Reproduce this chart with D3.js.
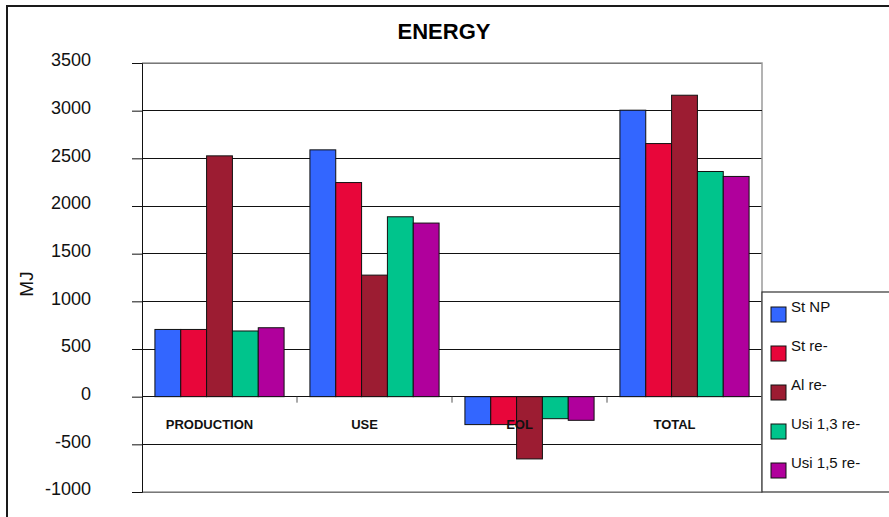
<!DOCTYPE html>
<html>
<head>
<meta charset="utf-8">
<script src="https://cdn.jsdelivr.net/npm/d3@7"></script>
<style>
  html, body { margin: 0; padding: 0; background: #fff; }
  svg { display: block; font-family: "Liberation Sans", Arial, sans-serif; }
</style>
</head>
<body>
<svg id="chart" width="889" height="517"></svg>
<script>
// Energy per life-cycle phase (MJ), one series per material option
const categories = ["PRODUCTION", "USE", "EOL", "TOTAL"];
const seriesNames = ["St NP", "St re-", "Al re-", "Usi 1,3 re-", "Usi 1,5 re-"];
const stNP   = [705, 2589, -293, 3005];
const stRe   = [705, 2246, -293, 2655];
const alRe   = [2526, 1275, -653, 3162];
const usi13  = [689, 1887, -231, 2362];
const usi15  = [723, 1821, -248, 2310];
const seriesValues = [stNP, stRe, alRe, usi13, usi15];
const seriesColors = ["#3366FF", "#E8063A", "#9C1C32", "#00C48C", "#B0009C"];
const yTicks = [-1000, -500, 0, 500, 1000, 1500, 2000, 2500, 3000, 3500];

const svg = d3.select("#chart");
const W = 889, H = 517;
const plot = { left: 142, right: 762, top: 63, bottom: 492 };

// outer frame (runs off the right and bottom edges)
svg.append("path")
  .attr("d", `M7,${H + 2}V6H${W + 2}`)
  .attr("fill", "none").attr("stroke", "#1a1a1a").attr("stroke-width", 2);

// title
svg.append("text")
  .attr("x", 444).attr("y", 39)
  .attr("text-anchor", "middle")
  .attr("font-size", 22).attr("font-weight", "bold")
  .text("ENERGY");

const y = d3.scaleLinear().domain([-1000, 3500]).range([plot.bottom, plot.top]);

const x0 = d3.scaleBand().domain(categories)
  .range([plot.left, plot.right])
  .paddingInner(1 / 6).paddingOuter(1 / 12);
const x1 = d3.scaleBand().domain(seriesNames).range([0, x0.bandwidth()]);

// gridlines
svg.append("g").selectAll("line").data(yTicks).join("line")
  .attr("x1", plot.left).attr("x2", plot.right)
  .attr("y1", d => y(d)).attr("y2", d => y(d))
  .attr("stroke", "#111").attr("stroke-width", 1)
  .attr("shape-rendering", "crispEdges");

// plot frame: top, right and bottom in grey
svg.append("path")
  .attr("d", `M${plot.left},${plot.top}H${plot.right}V${plot.bottom}H${plot.left}`)
  .attr("fill", "none").attr("stroke", "#9a9a9a").attr("stroke-width", 1.5);
svg.append("line")
  .attr("x1", plot.left).attr("x2", plot.right)
  .attr("y1", y(3000)).attr("y2", y(3000))
  .attr("stroke", "#111").attr("shape-rendering", "crispEdges");

// y axis (plain hyphen for negatives)
const yAxis = d3.axisLeft(y).tickValues(yTicks).tickSize(10).tickPadding(41)
  .tickFormat(d => String(d));
const gy = svg.append("g").attr("transform", `translate(${plot.left},0)`).call(yAxis);
gy.select(".domain").attr("stroke", "#111");
gy.selectAll(".tick line").attr("stroke", "#111");
gy.selectAll(".tick text")
  .attr("font-size", 18).attr("fill", "#111")
  .attr("font-family", "\"Liberation Sans\", Arial, sans-serif")
  .attr("dy", "0.15em");

// y axis title
svg.append("text")
  .attr("transform", "translate(33,284) rotate(-90)")
  .attr("text-anchor", "middle")
  .attr("font-size", 19).attr("fill", "#111")
  .text("MJ");

// bars
const groups = svg.append("g").selectAll("g").data(categories).join("g")
  .attr("transform", c => `translate(${x0(c)},0)`);
groups.selectAll("rect")
  .data((c, ci) => seriesNames.map((s, si) => ({ s, si, v: seriesValues[si][ci] })))
  .join("rect")
  .attr("x", d => x1(d.s))
  .attr("width", x1.bandwidth())
  .attr("y", d => y(Math.max(0, d.v)))
  .attr("height", d => Math.abs(y(d.v) - y(0)))
  .attr("fill", d => seriesColors[d.si])
  .attr("stroke", "#111").attr("stroke-width", 1);

// category axis along zero: boundary ticks and labels
const gap = (x0.step() - x0.bandwidth()) / 2;
svg.append("g").selectAll("line").data(categories.slice(1)).join("line")
  .attr("x1", c => x0(c) - gap).attr("x2", c => x0(c) - gap)
  .attr("y1", y(0)).attr("y2", y(0) + 6)
  .attr("stroke", "#555");
svg.append("g").selectAll("text").data(categories).join("text")
  .attr("x", c => x0(c) + x0.bandwidth() / 2 - 10)
  .attr("y", 429)
  .attr("text-anchor", "middle")
  .attr("font-size", 13).attr("font-weight", "bold").attr("fill", "#111")
  .text(c => c);

// legend
const legend = svg.append("g");
legend.append("rect")
  .attr("x", 762).attr("y", 292)
  .attr("width", 140).attr("height", 200)
  .attr("fill", "#fff").attr("stroke", "#333").attr("stroke-width", 1.2);
const items = legend.selectAll("g.item").data(seriesNames).join("g")
  .attr("class", "item")
  .attr("transform", (d, i) => `translate(771,${307 + i * 39})`);
items.append("rect")
  .attr("width", 15).attr("height", 15)
  .attr("fill", (d, i) => seriesColors[i])
  .attr("stroke", "#111");
items.append("text")
  .attr("x", 20).attr("y", 5)
  .attr("font-size", 15).attr("fill", "#111")
  .text(d => d);
</script>
</body>
</html>
